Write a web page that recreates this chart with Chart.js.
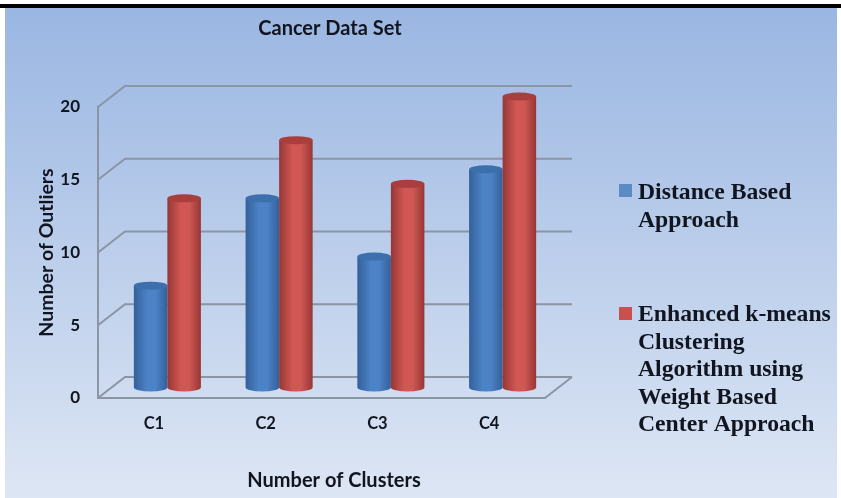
<!DOCTYPE html>
<html>
<head>
<meta charset="utf-8">
<style>
  html, body { margin: 0; padding: 0; background: #fff; }
  #wrap { width: 841px; height: 498px; }
</style>
<script src="https://cdn.jsdelivr.net/npm/chart.js@4"></script>
</head>
<body>
<div id="wrap"><canvas id="chart" width="841" height="498"></canvas></div>
<script>
const categories = ["C1", "C2", "C3", "C4"]
const distanceBased = [7, 13, 9, 15]
const enhancedKMeans = [13, 17, 14, 20]
const yTicks = [0, 5, 10, 15, 20]

const distanceLabel = ["Distance Based", "Approach"]
const enhancedLabel = ["Enhanced k-means", "Clustering", "Algorithm using", "Weight Based", "Center Approach"]

const sans = "Lato, 'Open Sans', sans-serif"
const serif = "'Liberation Serif', serif"
const gridColor = "#8b95a3"
const textColor = "#10151f"

// how far the back wall sits behind the front of the box
const depthX = 27
const depthY = 21

const blue = { dark: "#33609a", mid: "#4c82c6", top: "#3c70ac", flat: "#5a8bc4" }
const red = { dark: "#963735", mid: "#d05753", top: "#a93f3d", flat: "#c9504d" }

function cylinder(ctx, el, c) {
    let rx = el.width / 2
    let ry = 4
    let left = el.x - rx
    let right = el.x + rx

    let g = ctx.createLinearGradient(left, 0, right, 0)
    g.addColorStop(0, c.dark)
    g.addColorStop(0.4, c.mid)
    g.addColorStop(0.65, c.mid)
    g.addColorStop(1, c.dark)

    ctx.fillStyle = g
    ctx.beginPath()
    ctx.moveTo(left, el.y)
    ctx.lineTo(left, el.base)
    ctx.ellipse(el.x, el.base, rx, ry, 0, Math.PI, 0, true)
    ctx.lineTo(right, el.y)
    ctx.closePath()
    ctx.fill()

    ctx.fillStyle = c.top
    ctx.beginPath()
    ctx.ellipse(el.x, el.y, rx, ry, 0, 0, Math.PI * 2)
    ctx.fill()
}

const boxPlugin = {
    id: "box",
    beforeDraw(chart) {
        let ctx = chart.ctx
        let g = ctx.createLinearGradient(0, 8, 0, 498)
        g.addColorStop(0, "#9ab6e2")
        g.addColorStop(1, "#dde6f4")
        ctx.save()
        ctx.fillStyle = g
        ctx.fillRect(5, 8, 832, 490)
        ctx.fillStyle = "#000"
        ctx.fillRect(0, 4, 841, 4)
        ctx.restore()
    },
    beforeDatasetsDraw(chart) {
        let ctx = chart.ctx
        let area = chart.chartArea
        let y = chart.scales.y
        ctx.save()
        ctx.strokeStyle = gridColor
        ctx.lineWidth = 2
        yTicks.forEach((t) => {
            let py = y.getPixelForValue(t)
            ctx.beginPath()
            ctx.moveTo(area.left, py)
            ctx.lineTo(area.left + depthX, py - depthY)
            ctx.lineTo(area.right + depthX, py - depthY)
            ctx.stroke()
        })
        ctx.beginPath()
        ctx.moveTo(area.right, area.bottom)
        ctx.lineTo(area.right + depthX, area.bottom - depthY)
        ctx.stroke()

        // bars stand halfway into the box, red goes over blue
        ctx.translate(depthX / 2, -depthY / 2)
        chart.getDatasetMeta(0).data.forEach((el) => cylinder(ctx, el, blue))
        chart.getDatasetMeta(1).data.forEach((el) => cylinder(ctx, el, red))
        ctx.restore()
    },
    beforeDatasetDraw() {
        return false
    },
    afterDraw(chart) {
        let ctx = chart.ctx
        ctx.save()
        ctx.textBaseline = "alphabetic"
        ctx.textAlign = "center"
        ctx.fillStyle = textColor
        ctx.font = "700 20px " + sans
        ctx.fillText("Cancer Data Set", 330, 35)
        ctx.fillText("Number of Clusters", 334, 487)

        ctx.textAlign = "left"
        ctx.font = "700 23.7px " + serif
        distanceLabel.forEach((t, i) => ctx.fillText(t, 638, 199 + i * 27.5))
        enhancedLabel.forEach((t, i) => ctx.fillText(t, 638, 321 + i * 27.5))

        ctx.fillStyle = blue.flat
        ctx.fillRect(619, 184, 13, 13)
        ctx.fillStyle = red.flat
        ctx.fillRect(619, 307, 13, 13)
        ctx.restore()
    }
}

new Chart(document.getElementById("chart"), {
    type: "bar",
    data: {
        labels: categories,
        datasets: [
            { label: distanceLabel.join(" "), data: distanceBased },
            { label: enhancedLabel.join(" "), data: enhancedKMeans }
        ]
    },
    plugins: [boxPlugin],
    options: {
        responsive: false,
        animation: false,
        categoryPercentage: 0.6,
        barPercentage: 1,
        layout: { padding: { left: 35, top: 107, right: 296, bottom: 0 } },
        plugins: {
            legend: { display: false },
            tooltip: { enabled: false }
        },
        scales: {
            x: {
                afterFit(scale) { scale.height = 100 },
                grid: { display: false, drawTicks: false },
                border: { color: gridColor, width: 2 },
                ticks: {
                    padding: 16,
                    color: textColor,
                    font: { family: sans, size: 16.5, weight: "700" }
                }
            },
            y: {
                min: 0,
                max: 20,
                afterFit(scale) { scale.width = 63 },
                grid: { display: false, drawTicks: false },
                border: { color: gridColor, width: 2 },
                title: {
                    display: true,
                    text: "Number of Outliers",
                    color: textColor,
                    padding: 0,
                    font: { family: sans, size: 19.5, weight: "700" }
                },
                ticks: {
                    stepSize: 5,
                    padding: 18,
                    color: textColor,
                    font: { family: sans, size: 17, weight: "700" }
                }
            }
        }
    }
})
</script>
</body>
</html>
